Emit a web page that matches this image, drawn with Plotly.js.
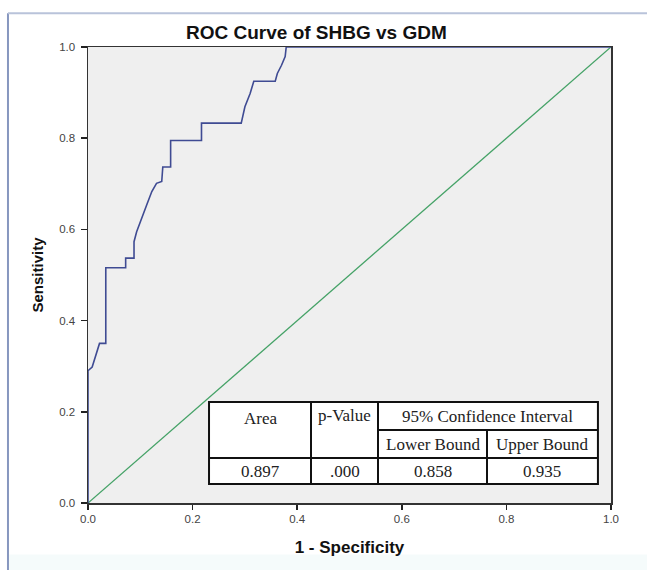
<!DOCTYPE html>
<html>
<head>
<meta charset="utf-8">
<script src="https://cdn.plot.ly/plotly-3.0.1.min.js"></script>
<style>html,body{margin:0;padding:0;background:#fff;}#chart{width:647px;height:570px;}</style>
</head>
<body>
<div id="chart"></div>
<script>
// ROC curve points (1 - specificity, sensitivity)
var fpr = [0, 0, 0.008, 0.020, 0.022, 0.034, 0.034, 0.072, 0.072, 0.088, 0.088, 0.093, 0.102, 0.112, 0.122, 0.131, 0.141, 0.143, 0.158, 0.158, 0.217, 0.217, 0.293, 0.300, 0.310, 0.317, 0.358, 0.362, 0.370, 0.377, 0.379, 1.0];
var tpr = [0, 0.290, 0.298, 0.345, 0.350, 0.350, 0.516, 0.516, 0.537, 0.537, 0.573, 0.595, 0.624, 0.653, 0.683, 0.701, 0.705, 0.737, 0.737, 0.795, 0.795, 0.833, 0.833, 0.869, 0.898, 0.925, 0.925, 0.942, 0.960, 0.979, 1.0, 1.0];
var refX = [0, 1];
var refY = [0, 1];
var tickVals = [0, 0.2, 0.4, 0.6, 0.8, 1.0];
var tickText = ["0.0", "0.2", "0.4", "0.6", "0.8", "1.0"];
// Table content
var headTop = ["Area", "p-Value", "95% Confidence Interval"];
var headSub = ["Lower Bound", "Upper Bound"];
var rowVals = ["0.897", ".000", "0.858", "0.935"];

// table geometry (data coords)
var tL = 0.2314, tR = 0.975, c1 = 0.4264, c2 = 0.5545, c3 = 0.7629;
var tT = 0.2215, rMid = 0.160, rRow = 0.0987, tB = 0.0417;
var lineStyle = {color: '#111', width: 2};
var shapes = [
  // faint bottom strip of the picture
  {type:'rect', xref:'paper', yref:'paper', x0:-0.153, x1:1.07, y0:-0.15, y1:-0.113, fillcolor:'#f5fbfb', line:{width:0}, layer:'below'},
  {type:'rect', xref:'x', yref:'y', x0:tL, x1:tR, y0:tB, y1:tT, fillcolor:'#ffffff', line:lineStyle},
  {type:'line', xref:'x', yref:'y', x0:c1, x1:c1, y0:tB, y1:tT, line:lineStyle},
  {type:'line', xref:'x', yref:'y', x0:c2, x1:c2, y0:tB, y1:tT, line:lineStyle},
  {type:'line', xref:'x', yref:'y', x0:c3, x1:c3, y0:tB, y1:rMid, line:lineStyle},
  {type:'line', xref:'x', yref:'y', x0:c2, x1:tR, y0:rMid, y1:rMid, line:lineStyle},
  {type:'line', xref:'x', yref:'y', x0:tL, x1:tR, y0:rRow, y1:rRow, line:lineStyle},
  // outer picture frame
  {type:'line', xref:'paper', yref:'paper', x0:-0.153, x1:-0.153, y0:-0.16, y1:1.074, line:{color:'#8797bf', width:2}},
  {type:'line', xref:'paper', yref:'paper', x0:-0.153, x1:1.075, y0:1.074, y1:1.074, line:{color:'#b9c3da', width:2}}
];
var tf = {family:'"Liberation Serif", "Times New Roman", serif', size:17, color:'#222'};
var annotations = [
  {xref:'x', yref:'y', x:(tL+c1)/2, y:0.186, text:headTop[0], showarrow:false, font:tf},
  {xref:'x', yref:'y', x:(c1+c2)/2, y:0.191, text:headTop[1], showarrow:false, font:tf},
  {xref:'x', yref:'y', x:(c2+tR)/2, y:0.189, text:headTop[2], showarrow:false, font:tf},
  {xref:'x', yref:'y', x:(c2+c3)/2, y:0.129, text:headSub[0], showarrow:false, font:tf},
  {xref:'x', yref:'y', x:(c3+tR)/2, y:0.129, text:headSub[1], showarrow:false, font:tf},
  {xref:'x', yref:'y', x:(tL+c1)/2, y:0.070, text:rowVals[0], showarrow:false, font:tf},
  {xref:'x', yref:'y', x:(c1+c2)/2, y:0.070, text:rowVals[1], showarrow:false, font:tf},
  {xref:'x', yref:'y', x:(c2+c3)/2, y:0.070, text:rowVals[2], showarrow:false, font:tf},
  {xref:'x', yref:'y', x:(c3+tR)/2, y:0.070, text:rowVals[3], showarrow:false, font:tf}
];

var traces = [
  {x: refX, y: refY, mode:'lines', line:{color:'#45a267', width:1.3}, hoverinfo:'skip', showlegend:false},
  {x: fpr, y: tpr, mode:'lines', line:{color:'#3f4b93', width:1.6}, showlegend:false}
];
var axisFont = {family:'"Liberation Sans", Arial, sans-serif', size:11.5, color:'#444'};
var layout = {
  width:647, height:570,
  margin:{l:88, r:36, t:47, b:67},
  paper_bgcolor:'#ffffff', plot_bgcolor:'#efefef',
  title:{text:'<b>ROC Curve of SHBG vs GDM</b>', xref:'container', yref:'container', x:0.489, y:0.943, xanchor:'center', yanchor:'middle',
         font:{family:'"Liberation Sans", Arial, sans-serif', size:19, color:'#111'}},
  xaxis:{range:[0,1], tickvals:tickVals, ticktext:tickText, showgrid:false, zeroline:false,
         showline:true, linecolor:'#333', linewidth:1.5, mirror:true, ticks:'outside', ticklen:5, tickcolor:'#222', tickwidth:1.5,
         tickfont:axisFont, automargin:false,
         title:{text:'<b>1 - Specificity</b>', font:{family:'"Liberation Sans", Arial, sans-serif', size:17, color:'#111'}, standoff:17}},
  yaxis:{range:[0,1], tickvals:tickVals, ticktext:tickText, showgrid:false, zeroline:false,
         showline:true, linecolor:'#333', linewidth:1.5, mirror:true, ticks:'outside', ticklen:6, tickcolor:'#222', tickwidth:1.5,
         tickfont:axisFont, automargin:false, ticklabelstandoff:3,
         title:{text:'<b>Sensitivity</b>', font:{family:'"Liberation Sans", Arial, sans-serif', size:15, color:'#111'}, standoff:12}},
  shapes:shapes,
  annotations:annotations
};
Plotly.newPlot('chart', traces, layout, {displayModeBar:false, staticPlot:true});
</script>
</body>
</html>
